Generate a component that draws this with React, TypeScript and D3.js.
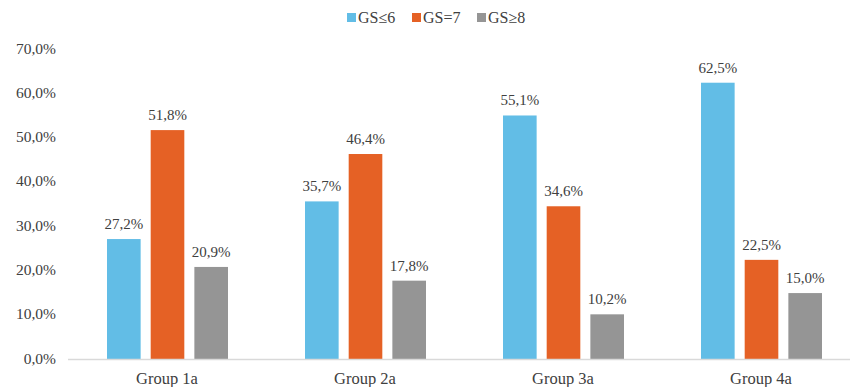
import React from "react";
import * as d3 from "d3";

const groups = ["Group 1a", "Group 2a", "Group 3a", "Group 4a"];
const seriesNames = ["GS≤6", "GS=7", "GS≥8"];
const gs6 = [27.2, 35.7, 55.1, 62.5];
const gs7 = [51.8, 46.4, 34.6, 22.5];
const gs8 = [20.9, 17.8, 10.2, 15.0];
const yTicks = [0, 10, 20, 30, 40, 50, 60, 70];
const colors = ["#62BDE6", "#E56125", "#959595"];

const W = 850;
const H = 387;
const FONT = "'Liberation Serif', 'Times New Roman', serif";

const fmt = (v: number) => v.toFixed(1).replace(".", ",") + "%";

export default function App() {
  const series = [gs6, gs7, gs8];
  const x0 = d3.scaleBand<string>().domain(groups).range([68, 860]).paddingInner(0).paddingOuter(0);
  const x1 = d3
    .scaleBand<string>()
    .domain(seriesNames)
    .range([39, x0.bandwidth() - 38])
    .paddingInner(0.23);
  const y = d3.scaleLinear().domain([0, 70]).range([359.5, 49.5]);

  const legendX = [347, 412, 477];

  return (
    <svg
      width={W}
      height={H}
      style={{ position: "absolute", left: 0, top: 0, display: "block", background: "#fff" }}
      fontFamily={FONT}
    >
      {/* legend */}
      {seriesNames.map((s, i) => (
        <g key={s}>
          <rect x={legendX[i]} y={13} width={9} height={9} fill={colors[i]} />
          <text x={legendX[i] + 11} y={23} fontSize={16} fill="#404040">
            {s}
          </text>
        </g>
      ))}

      {/* y axis tick labels */}
      {yTicks.map((t) => (
        <text key={t} x={56} y={y(t) + 4} fontSize={15.5} textAnchor="end" fill="#404040">
          {fmt(t)}
        </text>
      ))}

      {/* bars */}
      {groups.map((g, gi) => (
        <g key={g} transform={`translate(${x0(g)},0)`}>
          {seriesNames.map((s, si) => {
            const v = series[si][gi];
            const bx = x1(s)!;
            return (
              <g key={s}>
                <rect x={bx} y={y(v)} width={x1.bandwidth()} height={y(0) - y(v)} fill={colors[si]} />
                <text
                  x={bx + x1.bandwidth() / 2}
                  y={y(v) - 10}
                  fontSize={15}
                  textAnchor="middle"
                  fill="#404040"
                >
                  {fmt(v)}
                </text>
              </g>
            );
          })}
          <text x={x0.bandwidth() / 2} y={384} fontSize={16.5} textAnchor="middle" fill="#404040">
            {g}
          </text>
        </g>
      ))}

      {/* baseline */}
      <line x1={68} x2={860} y1={y(0)} y2={y(0)} stroke="#D9D9D9" strokeWidth={1.5} />
    </svg>
  );
}
